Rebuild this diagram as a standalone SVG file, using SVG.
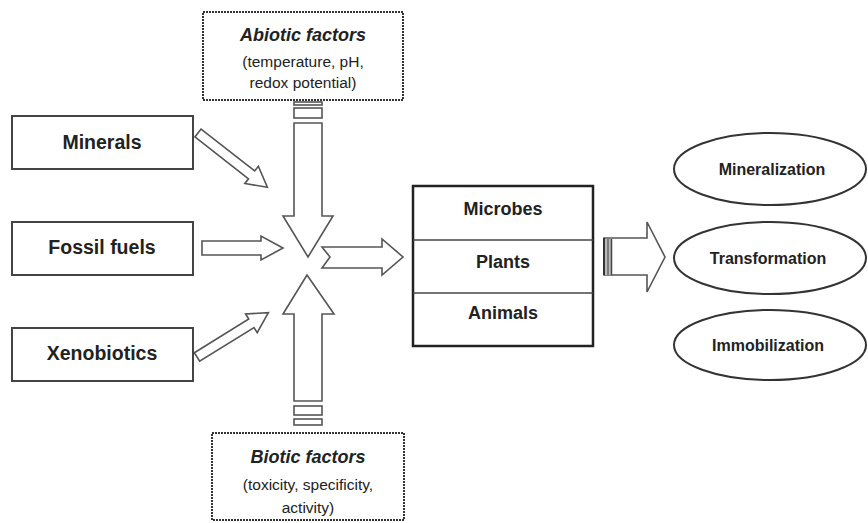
<svg xmlns="http://www.w3.org/2000/svg" width="868" height="523" viewBox="0 0 868 523">
<style>
text{font-family:"Liberation Sans",Arial,sans-serif;fill:#222;text-anchor:middle}
.b{font-weight:bold}
.src{font-size:19.5px;font-weight:bold}
.org{font-size:18px;font-weight:bold}
.out{font-size:16px;font-weight:bold}
.fh{font-size:18px;font-weight:bold;font-style:italic}
.fs{font-size:15.5px}
.box{fill:#fff;stroke:#444;stroke-width:2}
.dot{fill:#fff;stroke:#333;stroke-width:2;stroke-dasharray:2 1}
.arr{fill:#fff;stroke:#555;stroke-width:1.6;stroke-linejoin:miter}
.ell{fill:#fff;stroke:#333;stroke-width:2}
</style>
<rect width="868" height="523" fill="#fff"/>
<g id="connectors">
  <polygon class="arr" transform="translate(198,133) rotate(38)" points="0,-5 68,-5 68,-11 88,0 68,11 68,5 0,5"/>
  <polygon class="arr" points="202,241 261,241 261,236 283,248 261,260 261,255 202,255"/>
  <polygon class="arr" transform="translate(197,357) rotate(-31.8)" points="0,-5 64,-5 64,-11 84,0 64,11 64,5 0,5"/>
  <rect class="arr" x="294" y="102" width="28" height="3"/>
  <rect class="arr" x="294" y="108" width="28" height="10"/>
  <polygon class="arr" points="294,123 322,123 322,216 333,216 308,257 283,216 294,216"/>
  <polygon class="arr" points="294,401 322,401 322,314 334,314 307,275 283,314 294,314"/>
  <rect class="arr" x="294" y="406" width="28" height="9"/>
  <rect class="arr" x="294" y="419" width="28" height="6"/>
  <polygon class="arr" points="322,247 382,247 382,239 403,257 382,275 382,268 322,268 330,257"/>
  <polygon class="arr" points="604,238 647,238 647,222 665,257 647,292 647,275 604,275"/>
  <rect x="604" y="239" width="8" height="36" fill="#bbb"/>
  <line x1="604" y1="238" x2="604" y2="275" stroke="#333" stroke-width="2"/>
  <line x1="608" y1="239" x2="608" y2="275" stroke="#666" stroke-width="1.5"/>
  <line x1="611.5" y1="239" x2="611.5" y2="275" stroke="#444" stroke-width="1.5"/>
</g>
<g id="abiotic">
  <rect class="dot" x="203" y="12" width="200" height="88"/>
  <text class="fh" x="303" y="41">Abiotic factors</text>
  <text class="fs" x="303" y="67">(temperature, pH,</text>
  <text class="fs" x="303" y="88">redox potential)</text>
</g>
<g id="biotic">
  <rect class="dot" x="212" y="433" width="192" height="87"/>
  <text class="fh" x="308" y="463">Biotic factors</text>
  <text class="fs" x="308" y="490">(toxicity, specificity,</text>
  <text class="fs" x="308" y="513">activity)</text>
</g>
<g id="minerals">
  <rect class="box" x="12" y="116" width="181" height="53"/>
  <text class="src" x="102" y="149">Minerals</text>
</g>
<g id="fossil">
  <rect class="box" x="12" y="222" width="181" height="53"/>
  <text class="src" x="102" y="254">Fossil fuels</text>
</g>
<g id="xenobiotics">
  <rect class="box" x="12" y="328" width="181" height="53"/>
  <text class="src" x="102" y="360">Xenobiotics</text>
</g>
<g id="organisms">
  <rect x="413" y="186" width="180" height="160" fill="#fff" stroke="#222" stroke-width="2.5"/>
  <line x1="413" y1="240" x2="593" y2="240" stroke="#444" stroke-width="1.5"/>
  <line x1="413" y1="293" x2="593" y2="293" stroke="#444" stroke-width="1.5"/>
  <text class="org" x="503" y="215">Microbes</text>
  <text class="org" x="503" y="268">Plants</text>
  <text class="org" x="503" y="319">Animals</text>
</g>
<g id="mineralization">
  <ellipse class="ell" cx="770" cy="169" rx="96" ry="36"/>
  <text class="out" x="772" y="175">Mineralization</text>
</g>
<g id="transformation">
  <ellipse class="ell" cx="770" cy="258" rx="96" ry="36"/>
  <text class="out" x="768" y="264">Transformation</text>
</g>
<g id="immobilization">
  <ellipse class="ell" cx="770" cy="345" rx="96" ry="35"/>
  <text class="out" x="768" y="351">Immobilization</text>
</g>
</svg>
